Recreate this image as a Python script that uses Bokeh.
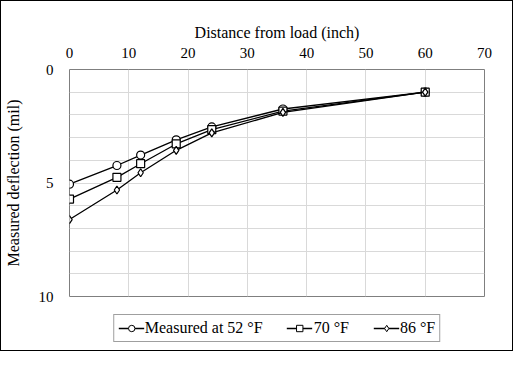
from bokeh.plotting import figure
from bokeh.layouts import column
from bokeh.models import Range1d, FixedTicker, Legend, LegendItem
from bokeh.embed import file_html
from bokeh.resources import INLINE

distance = [0, 8, 12, 18, 24, 36, 60]
defl_52 = [5.05, 4.23, 3.77, 3.10, 2.53, 1.74, 1.00]
defl_70 = [5.71, 4.75, 4.15, 3.28, 2.65, 1.83, 1.00]
defl_86 = [6.61, 5.31, 4.55, 3.56, 2.79, 1.89, 1.00]
labels = ["Measured at 52 °F", "70 °F", "86 °F"]
x_ticks = [0, 10, 20, 30, 40, 50, 60, 70]
y_ticks = [0, 5, 10]
y_grid = [0, 1, 2, 3, 4, 5, 6, 7, 8, 9, 10]

FONT = "Liberation Serif, Times New Roman, serif"

p = figure(width=511, height=304, output_backend="svg", toolbar_location=None,
           x_range=Range1d(0, 70), y_range=Range1d(10, 0),
           x_axis_location="above",
           min_border_left=65, min_border_right=28, min_border_top=68, min_border_bottom=9)

p.outline_line_color = "#7f7f7f"
p.outline_line_width = 1

for ax in [p.xaxis[0], p.yaxis[0]]:
    ax.axis_line_color = None
    ax.major_tick_line_color = None
    ax.minor_tick_line_color = None
    ax.major_label_text_font = FONT
    ax.major_label_text_font_size = "15px"
    ax.major_label_text_color = "#000000"
    ax.axis_label_text_font = FONT
    ax.axis_label_text_font_size = "16px"
    ax.axis_label_text_font_style = "normal"
    ax.axis_label_text_color = "#000000"

p.xaxis.ticker = FixedTicker(ticks=x_ticks)
p.yaxis.ticker = FixedTicker(ticks=y_ticks)
p.xaxis.axis_label = "Distance from load (inch)"
p.yaxis.axis_label = "Measured deflection (mil)"
p.xaxis.major_label_standoff = 6
p.xaxis.axis_label_standoff = 4
p.yaxis.major_label_standoff = 10
p.yaxis.axis_label_standoff = 14

p.xgrid.ticker = FixedTicker(ticks=x_ticks)
p.ygrid.ticker = FixedTicker(ticks=y_grid)
p.xgrid.grid_line_color = "#d9d9d9"
p.ygrid.grid_line_color = "#d9d9d9"

series = [defl_52, defl_70, defl_86]
markers = ["circle", "square", "diamond"]
sizes = [8, 8, 8]
for ys, mk, sz in zip(series, markers, sizes):
    p.line(distance, ys, line_color="black", line_width=1.3)
    p.scatter(distance, ys, marker=mk, size=sz, line_color="black",
              fill_color="white", line_width=1.2)

# legend strip below the chart (its renderers lie outside its visible range)
lf = figure(width=511, height=45, output_backend="svg", toolbar_location=None,
            x_axis_type=None, y_axis_type=None, min_border=0,
            x_range=Range1d(-3, -2), y_range=Range1d(-3, -2))
lf.outline_line_color = None
lf.grid.visible = False
items = []
for ys, mk, lab in zip(series, markers, labels):
    ln = lf.line(distance, ys, line_color="black", line_width=1.3)
    sc = lf.scatter(distance, ys, marker=mk, size=6, line_color="black",
                    fill_color="white", line_width=1.0)
    items.append(LegendItem(label=lab, renderers=[ln, sc]))

legend = Legend(items=items, orientation="horizontal", location="center")
legend.label_text_font = FONT
legend.label_text_font_size = "16px"
legend.label_text_color = "#000000"
legend.border_line_color = "#404040"
legend.border_line_width = 1
legend.padding = 4
legend.margin = 0
legend.spacing = 24
legend.label_standoff = 1
legend.glyph_width = 26
legend.glyph_height = 16
legend.label_height = 16
legend.background_fill_alpha = 1
legend.styles = {}
lf.add_layout(legend)

layout = column(p, lf, spacing=0, styles={"border": "1px solid #000000"})
open("out.html", "w").write(file_html(layout, INLINE))
